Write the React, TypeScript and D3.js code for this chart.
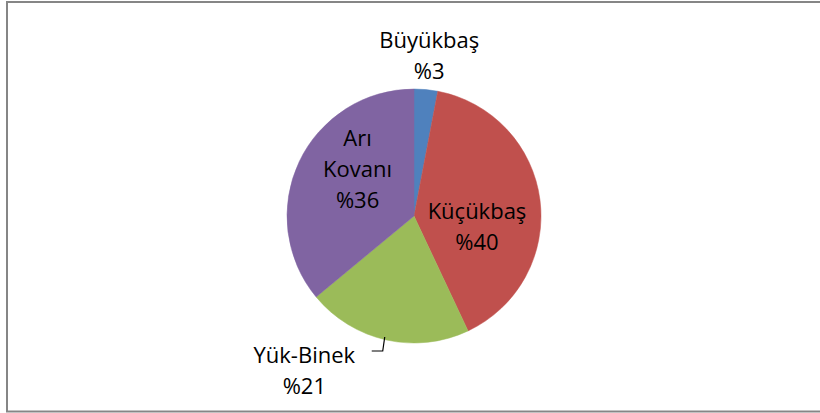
import React, { useEffect, useRef } from 'react';
import * as d3 from 'd3';

// Slice data (clockwise from 12 o'clock)
const categories = ['Büyükbaş', 'Küçükbaş', 'Yük-Binek', 'Arı Kovanı'];
const shares = [3, 40, 21, 36];
const colors = ['#4F81BD', '#C0504D', '#9BBB59', '#8064A2'];
const labelLines = [['Büyükbaş', '%3'], ['Küçükbaş', '%40'], ['Yük-Binek', '%21'], ['Arı', 'Kovanı', '%36']];

const App: React.FC = () => {
  const ref = useRef<HTMLDivElement | null>(null);

  useEffect(() => {
    if (!ref.current) return;
    document.body.style.margin = '0';
    ref.current.innerHTML = '';

    const width = 820;
    const height = 413;
    const cx = 414;
    const cy = 216;
    const radius = 127;
    const font = '"Open Sans", "Liberation Sans", sans-serif';
    const fontSize = 22;
    const lineH = 31;

    const svg = d3
      .select(ref.current)
      .append('svg')
      .attr('width', width)
      .attr('height', height)
      .style('display', 'block');

    // Chart area border
    svg
      .append('rect')
      .attr('x', 7)
      .attr('y', 2)
      .attr('width', 830)
      .attr('height', 409.5)
      .attr('fill', '#fff')
      .attr('stroke', '#868686')
      .attr('stroke-width', 2);

    const data = categories.map((c, i) => ({ name: c, value: shares[i], color: colors[i], lines: labelLines[i] }));
    const pie = d3
      .pie<(typeof data)[number]>()
      .value((d) => d.value)
      .sort(null);
    const arcs = pie(data);

    const arc = d3.arc<d3.PieArcDatum<(typeof data)[number]>>().innerRadius(0).outerRadius(radius);

    const g = svg.append('g').attr('transform', `translate(${cx},${cy})`);

    g.selectAll('path.slice')
      .data(arcs)
      .enter()
      .append('path')
      .attr('class', 'slice')
      .attr('d', arc)
      .attr('fill', (d) => d.data.color)
      .attr('stroke', (d) => d.data.color)
      .attr('stroke-width', 0.5);

    // label anchor radius factor + offset (label layout as in the source)
    const labelRadius = [1.27, 0.5, 1.0, 0.5];
    const labelShift: [number, number][] = [
      [0, 0],
      [0, 19],
      [-82, 31],
      [1, -20],
    ];

    arcs.forEach((a, i) => {
      const ra = radius * labelRadius[i];
      const [lx, ly] = d3.arc<any>().innerRadius(ra).outerRadius(ra).centroid(a);
      const x = lx + labelShift[i][0];
      const y = ly + labelShift[i][1];
      const lines = a.data.lines;
      const top = y - ((lines.length - 1) * lineH) / 2;
      const t = g
        .append('text')
        .attr('text-anchor', 'middle')
        .attr('font-family', font)
        .attr('font-size', fontSize)
        .attr('fill', '#000');
      lines.forEach((ln, k) => {
        t.append('tspan')
          .attr('x', x)
          .attr('y', top + k * lineH)
          .attr('dy', '0.35em')
          .text(ln);
      });

      // leader line for the outside label at the bottom
      if (i === 2) {
        const [ex, ey] = d3.arc<any>().innerRadius(radius - 2).outerRadius(radius - 2).centroid(a);
        const path = d3.path();
        path.moveTo(ex - 2, ey - 1);
        path.lineTo(ex - 4, ey + 13);
        path.lineTo(ex - 15, ey + 13);
        g.append('path')
          .attr('d', path.toString())
          .attr('fill', 'none')
          .attr('stroke', '#000')
          .attr('stroke-width', 1.2);
      }
    });
  }, []);

  return <div ref={ref} />;
};

export default App;
